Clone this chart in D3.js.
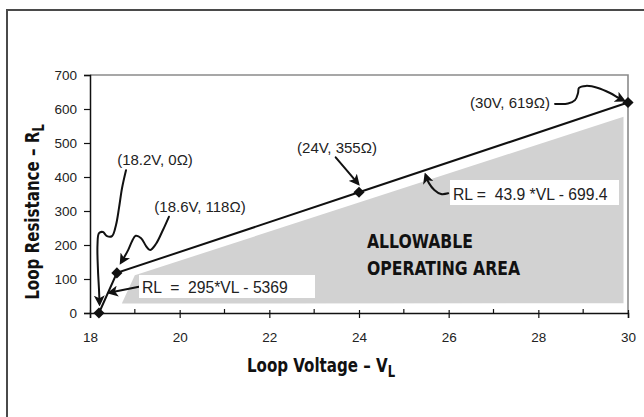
<!DOCTYPE html>
<html>
<head>
<meta charset="utf-8">
<script src="https://cdn.jsdelivr.net/npm/d3@7/dist/d3.min.js"></script>
<style>
  html, body { margin: 0; padding: 0; background: #fff; }
  svg { display: block; }
  .reg { font-family: "Liberation Sans", Arial, sans-serif; }
  .cond { font-family: "DejaVu Sans Condensed", "DejaVu Sans", sans-serif; font-weight: bold; font-stretch: condensed; }
</style>
</head>
<body>
<svg id="chart" width="644" height="417"></svg>
<script>
// Operating points on the loop-resistance limit (V, ohms)
const pointVolts = [18.2, 18.6, 24, 30];
const pointOhms  = [0, 118, 355, 619];
const pointLabels = ["(18.2V, 0\u03A9)", "(18.6V, 118\u03A9)", "(24V, 355\u03A9)", "(30V, 619\u03A9)"];

// Shaded allowable operating region (V, ohms)
const areaVolts = [18.71, 19.0, 29.9, 29.9];
const areaOhms  = [28, 111, 577, 29];

// Axis ticks
const xMajorTicks = [18, 20, 22, 24, 26, 28, 30];
const xMinorTicks = [19, 21, 23, 25, 27, 29];
const yTicks = [0, 100, 200, 300, 400, 500, 600, 700];

// Line equations
const eqSteep = "RL  =  295*VL - 5369";
const eqShallow = "RL =  43.9 *VL - 699.4";

const svg = d3.select("#chart");

const x = d3.scaleLinear().domain([18, 30]).range([90, 628]);
const y = d3.scaleLinear().domain([0, 700]).range([313, 75]);

// outer frame
svg.append("rect").attr("x", 7).attr("y", 10).attr("width", 720).attr("height", 480)
  .attr("fill", "none").attr("stroke", "#4a4a4a").attr("stroke-width", 2);

// shaded region
const area = areaVolts.map((v, i) => [x(v), y(areaOhms[i])]);
svg.append("path").attr("d", "M" + area.join("L") + "Z").attr("fill", "#d2d2d2");

// plot frame (top and right)
svg.append("path")
  .attr("d", `M${x(18)},${y(700)}H${x(30)}V${y(0)}`)
  .attr("fill", "none").attr("stroke", "#8a8a8a").attr("stroke-width", 1.6);

// y axis
const yAxis = svg.append("g").attr("transform", `translate(${x(18)},0)`)
  .call(d3.axisLeft(y).tickValues(yTicks).tickSize(6).tickPadding(7).tickFormat(d3.format("d")));
yAxis.select(".domain").attr("stroke", "#111").attr("stroke-width", 1.5);
yAxis.selectAll(".tick line").attr("stroke", "#111").attr("stroke-width", 1.2);
yAxis.selectAll("text").attr("class", "reg").attr("font-size", 13.5).attr("fill", "#222");

// x axis
const xAxis = svg.append("g").attr("transform", `translate(0,${y(0)})`)
  .call(d3.axisBottom(x).tickValues(xMajorTicks).tickSize(5).tickPadding(14).tickFormat(d3.format("d")));
xAxis.select(".domain").attr("stroke", "#111").attr("stroke-width", 1.5);
xAxis.selectAll(".tick line").attr("y1", -3).attr("stroke", "#111").attr("stroke-width", 1.2);
xAxis.selectAll("text").attr("class", "reg").attr("font-size", 13.5).attr("fill", "#222");
xAxis.selectAll(".minor").data(xMinorTicks).enter().append("line")
  .attr("x1", d => x(d)).attr("x2", d => x(d)).attr("y1", -4).attr("y2", 1)
  .attr("stroke", "#111").attr("stroke-width", 1.2);

// axis titles (horizontally compressed bold)
const xt = svg.append("text").attr("class", "cond")
  .attr("transform", "translate(321,372) scale(0.86,1)")
  .attr("text-anchor", "middle").attr("font-size", 19.5).attr("fill", "#111");
xt.append("tspan").text("Loop Voltage \u2013 V");
xt.append("tspan").attr("dy", 5).attr("font-size", 15).text("L");

const yt = svg.append("text").attr("class", "cond")
  .attr("transform", "translate(39,212) rotate(-90) scale(0.86,1)")
  .attr("text-anchor", "middle").attr("font-size", 19.5).attr("fill", "#111");
yt.append("tspan").text("Loop Resistance \u2013 R");
yt.append("tspan").attr("dy", 5).attr("font-size", 15).text("L");

// area caption
const cap = svg.append("text").attr("class", "cond")
  .attr("transform", "translate(367,0) scale(0.87,1)")
  .attr("font-size", 20).attr("fill", "#111");
cap.append("tspan").attr("x", 0).attr("y", 248).text("ALLOWABLE");
cap.append("tspan").attr("x", 0).attr("y", 275).text("OPERATING AREA");

// limit line and its points
const pts = pointVolts.map((v, i) => [x(v), y(pointOhms[i])]);
svg.append("path").attr("d", d3.line()(pts)).attr("fill", "none")
  .attr("stroke", "#111").attr("stroke-width", 2);
svg.selectAll(".pt").data(pts).enter().append("path")
  .attr("d", d3.symbol(d3.symbolSquare, 62)())
  .attr("transform", d => `translate(${d[0]},${d[1]}) rotate(45)`)
  .attr("fill", "#111");

// arrowhead
svg.append("defs").append("marker").attr("id", "head")
  .attr("viewBox", "0 0 10 10").attr("refX", 7).attr("refY", 5)
  .attr("markerWidth", 11).attr("markerHeight", 11).attr("markerUnits", "userSpaceOnUse")
  .attr("orient", "auto")
  .append("path").attr("d", "M0,0L10,5L0,10L2.5,5Z").attr("fill", "#111");

// hand-drawn callouts, in (V, ohms)
const callouts = [
  [[18.803, 420], [18.714, 367], [18.647, 309], [18.58, 259], [18.491, 226], [18.379, 226], [18.29, 238], [18.201, 235], [18.167, 200], [18.178, 126], [18.201, 68], [18.212, 29]],
  [[19.76, 283], [19.63, 245], [19.47, 203], [19.34, 185], [19.25, 197], [19.14, 220], [19.02, 227], [18.94, 212], [18.85, 185], [18.7, 150]],
  [[23.48, 458], [23.97, 382]],
  [[28.372, 615], [28.662, 616], [28.818, 626], [28.885, 647], [28.907, 662], [29.063, 668], [29.331, 662], [29.599, 647], [29.8, 632], [29.889, 626]],
  [[25.99, 352], [25.83, 350], [25.68, 362], [25.56, 382], [25.49, 404]],
  [[19.12, 78], [18.45, 60]]
];
const curve = d3.line().x(d => x(d[0])).y(d => y(d[1])).curve(d3.curveCatmullRom.alpha(0.5));
svg.selectAll(".callout").data(callouts).enter().append("path")
  .attr("d", d => curve(d)).attr("fill", "none").attr("stroke", "#111")
  .attr("stroke-width", 2).attr("stroke-linecap", "round").attr("marker-end", "url(#head)");

// equation boxes
const eqBoxes = [
  { text: eqSteep, x0: 139, y0: 275, w: 176, h: 23 },
  { text: eqShallow, x0: 450, y0: 180, w: 169, h: 25 }
];
svg.selectAll(".eqbox").data(eqBoxes).enter().append("rect")
  .attr("x", d => d.x0).attr("y", d => d.y0).attr("width", d => d.w).attr("height", d => d.h)
  .attr("fill", "#fff");
svg.selectAll(".eqtext").data(eqBoxes).enter().append("text").attr("class", "reg")
  .attr("x", d => d.x0 + 3).attr("y", d => d.y0 + d.h - 5)
  .attr("font-size", 15.7).attr("fill", "#222").style("white-space", "pre")
  .text(d => d.text);

// point labels
const labelPos = [[155, 165], [200, 212], [337, 153], [510, 108]];
svg.selectAll(".plabel").data(pointLabels).enter().append("text").attr("class", "reg")
  .attr("x", (d, i) => labelPos[i][0]).attr("y", (d, i) => labelPos[i][1])
  .attr("text-anchor", "middle").attr("font-size", 15).attr("fill", "#222")
  .text(d => d);
</script>
</body>
</html>
